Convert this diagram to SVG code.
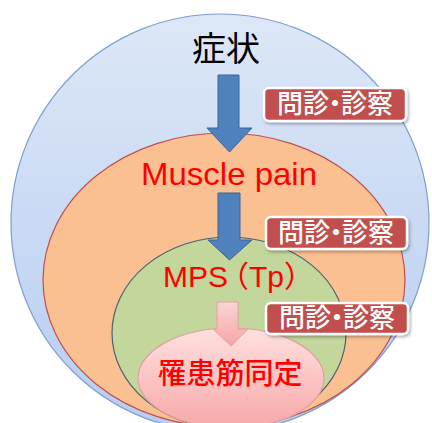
<svg xmlns="http://www.w3.org/2000/svg" width="432" height="423" viewBox="0 0 432 423">
<style>
.lbl rect{fill:#c0504d;stroke:#ffffff;stroke-width:2.5;filter:url(#sh)}
.lbl text{fill:#ffffff;font-family:"Noto Sans CJK JP","Noto Sans CJK SC",sans-serif;font-size:26px;font-weight:500;text-anchor:middle}
.red{fill:#ff0000;text-anchor:middle}
.barrow{fill:#4f81bd;stroke:#3a6494;stroke-width:1}
</style>
<defs>
<linearGradient id="gb" x1="0" y1="0" x2="0" y2="1"><stop offset="0" stop-color="#dde7f7"/><stop offset="1" stop-color="#b7cdf2"/></linearGradient>
<linearGradient id="gp" x1="0" y1="0" x2="0" y2="1"><stop offset="0" stop-color="#ffe0e0"/><stop offset="1" stop-color="#f8a8a8"/></linearGradient>
<linearGradient id="ga" x1="0" y1="0" x2="0" y2="1"><stop offset="0" stop-color="#fbd4d4"/><stop offset="1" stop-color="#f6a6a6"/></linearGradient>
<filter id="sh" x="-10%" y="-20%" width="130%" height="150%"><feDropShadow dx="1.5" dy="2" stdDeviation="1.5" flood-color="#000" flood-opacity="0.3"/></filter>
</defs>
<g id="symptom-circle"><circle cx="220" cy="223" r="209" fill="url(#gb)" stroke="#7f9fcf" stroke-width="1.2"/></g>
<g id="muscle-pain-ellipse"><ellipse cx="224" cy="280" rx="181" ry="147" fill="#fac092" stroke="#c0504d" stroke-width="1.2"/></g>
<g id="mps-ellipse"><ellipse cx="229" cy="333" rx="117" ry="96" fill="#c3d69b" stroke="#4f5f6f" stroke-width="1.2"/></g>
<g id="muscle-id-ellipse"><ellipse cx="231" cy="378" rx="93" ry="50" fill="url(#gp)" stroke="#e0a0a0" stroke-width="1.2"/></g>
<g id="connectors">
<path class="barrow" d="M218,75 H239 V128 H252 L229.5,152 L207,128 H218 Z"/>
<path class="barrow" d="M218,193 H240 V240 H252 L229.5,260 L208,240 H218 Z"/>
<path d="M217,302 H238 V329 H248 L231,346 L213,329 H217 Z" fill="url(#ga)" stroke="#e8a0a0" stroke-width="1"/>
</g>
<g id="symptom-text"><text x="226" y="61" font-family="Noto Sans CJK JP,sans-serif" font-size="34" text-anchor="middle" fill="#000">症状</text></g>
<g id="muscle-pain-text"><text class="red" x="229" y="185" font-family="Liberation Sans,Arial,sans-serif" font-size="32" textLength="176" lengthAdjust="spacingAndGlyphs">Muscle pain</text></g>
<g id="mps-text"><text x="163" y="287" fill="#ff0000" font-family="Liberation Sans,Noto Sans CJK JP,sans-serif" font-size="30" dx="0 0 0 -9">MPS（Tp）</text></g>
<g id="muscle-id-text"><text class="red" x="230" y="384" font-family="Noto Sans CJK JP,sans-serif" font-size="29" font-weight="500">罹患筋同定</text></g>
<g id="label1" class="lbl"><rect x="264" y="88" width="142" height="33" rx="5"/><text x="335" y="113" dx="0 0 -7 -7">問診・診察</text></g>
<g id="label2" class="lbl"><rect x="266" y="217" width="141" height="32" rx="5"/><text x="336" y="242" dx="0 0 -7 -7">問診・診察</text></g>
<g id="label3" class="lbl"><rect x="266" y="303" width="142" height="31" rx="5"/><text x="337" y="327" dx="0 0 -7 -7">問診・診察</text></g>
</svg>
